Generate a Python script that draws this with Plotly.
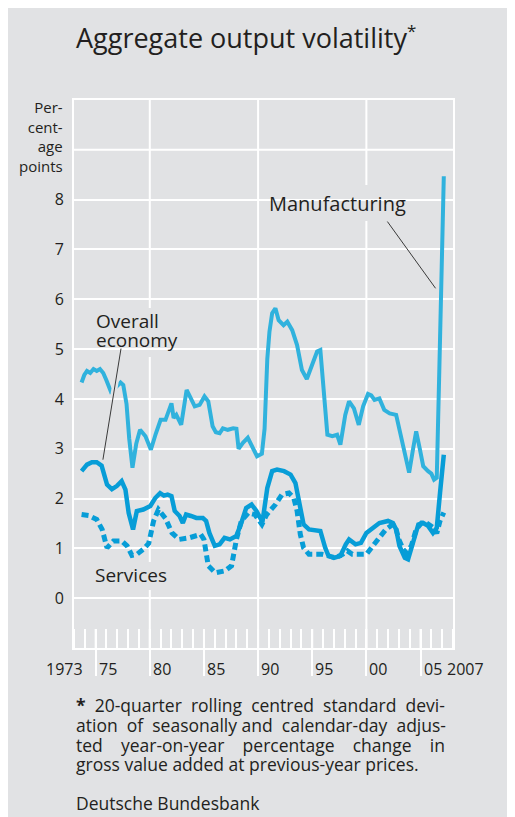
import plotly.graph_objects as go

# ---------------- data ----------------
manu_years = [1973.70, 1973.95, 1974.20, 1974.50, 1974.80, 1975.10, 1975.40, 1975.70, 1976.00, 1976.40,
              1976.80, 1977.30, 1977.55, 1977.85, 1978.10, 1978.40, 1978.75, 1979.10, 1979.60, 1980.10,
              1980.55, 1981.00, 1981.45, 1981.70, 1982.00, 1982.20, 1982.45, 1982.90, 1983.40, 1983.70,
              1984.15, 1984.60, 1985.05, 1985.40, 1985.80, 1986.10, 1986.45, 1986.75, 1987.20, 1987.70,
              1988.00, 1988.20, 1988.60, 1989.05, 1989.50, 1989.90, 1990.35, 1990.60, 1990.85, 1991.05,
              1991.30, 1991.60, 1991.90, 1992.35, 1992.70, 1993.15, 1993.60, 1994.05, 1994.50, 1995.00,
              1995.45, 1995.75, 1996.10, 1996.40, 1996.85, 1997.30, 1997.60, 1998.05, 1998.40, 1998.85,
              1999.30, 1999.70, 2000.15, 2000.45, 2000.75, 2001.20, 2001.65, 2002.15, 2002.75, 2003.20,
              2003.60, 2003.95, 2004.30, 2004.60, 2004.95, 2005.25, 2005.70, 2006.00, 2006.25, 2006.50,
              2006.75, 2007.15]
manu_values = [4.33, 4.48, 4.56, 4.52, 4.60, 4.56, 4.60, 4.52, 4.37, 4.15,
               4.22, 4.33, 4.28, 3.90, 3.20, 2.62, 3.10, 3.38, 3.25, 2.98,
               3.30, 3.58, 3.58, 3.75, 3.91, 3.62, 3.68, 3.48, 4.18, 4.05,
               3.85, 3.88, 4.05, 3.95, 3.45, 3.33, 3.31, 3.41, 3.38, 3.41,
               3.40, 3.00, 3.12, 3.22, 3.03, 2.85, 2.90, 3.40, 4.80, 5.35,
               5.72, 5.82, 5.58, 5.48, 5.55, 5.38, 5.08, 4.58, 4.40, 4.68,
               4.95, 4.98, 3.95, 3.28, 3.25, 3.28, 3.08, 3.68, 3.95, 3.81,
               3.48, 3.85, 4.10, 4.07, 3.98, 4.01, 3.78, 3.71, 3.68, 3.25,
               2.78, 2.52, 2.98, 3.35, 2.98, 2.65, 2.55, 2.50, 2.38, 2.42,
               4.70, 8.47]

overall_years = [1973.70, 1974.20, 1974.65, 1975.10, 1975.55, 1976.05, 1976.50, 1976.95, 1977.40, 1977.75,
                 1978.05, 1978.45, 1978.80, 1979.40, 1980.05, 1980.50, 1980.95, 1981.30, 1981.65, 1982.00,
                 1982.30, 1982.75, 1983.05, 1983.35, 1983.80, 1984.30, 1984.90, 1985.20, 1985.50, 1986.00,
                 1986.45, 1986.90, 1987.40, 1988.00, 1988.45, 1988.90, 1989.40, 1989.85, 1990.40, 1990.85,
                 1991.30, 1991.75, 1992.40, 1993.00, 1993.45, 1993.75, 1994.20, 1994.70, 1995.30, 1995.75,
                 1996.20, 1996.50, 1997.00, 1997.60, 1998.10, 1998.40, 1999.00, 1999.50, 2000.00, 2000.60,
                 2001.20, 2002.00, 2002.45, 2002.75, 2003.05, 2003.55, 2003.85, 2004.30, 2004.80, 2005.25,
                 2005.70, 2006.15, 2006.50, 2006.80, 2007.15]
overall_values = [2.55, 2.68, 2.73, 2.73, 2.66, 2.28, 2.19, 2.25, 2.35, 2.18,
                  1.71, 1.38, 1.75, 1.78, 1.85, 2.01, 2.11, 2.06, 2.08, 2.05,
                  1.75, 1.65, 1.51, 1.68, 1.65, 1.61, 1.61, 1.55, 1.31, 1.05,
                  1.08, 1.21, 1.18, 1.25, 1.51, 1.81, 1.88, 1.75, 1.53, 2.21,
                  2.55, 2.58, 2.55, 2.48, 2.31, 2.01, 1.48, 1.38, 1.35, 1.35,
                  1.01, 0.85, 0.81, 0.85, 1.08, 1.18, 1.08, 1.11, 1.31, 1.41,
                  1.51, 1.55, 1.51, 1.38, 1.05, 0.81, 0.78, 1.11, 1.48, 1.51,
                  1.45, 1.31, 1.41, 2.11, 2.88]

serv_years = [1973.70, 1974.35, 1975.10, 1975.60, 1976.05, 1976.65, 1977.40, 1977.90, 1978.35, 1978.80,
              1979.40, 1979.90, 1980.35, 1980.80, 1981.45, 1982.05, 1982.70, 1983.60, 1984.70, 1985.00,
              1985.40, 1986.05, 1986.95, 1987.55, 1988.00, 1988.45, 1989.10, 1989.70, 1990.35, 1990.80,
              1991.60, 1992.20, 1992.85, 1993.30, 1993.60, 1993.90, 1994.20, 1994.70, 1995.30, 1995.90,
              1996.50, 1997.15, 1997.80, 1998.25, 1998.70, 1999.60, 2000.00, 2000.60, 2001.20, 2001.80,
              2002.45, 2002.75, 2003.00, 2003.40, 2003.70, 2004.15, 2004.60, 2005.10, 2005.55, 2006.00,
              2006.30, 2006.50, 2006.80, 2007.15]
serv_values = [1.68, 1.66, 1.58, 1.38, 1.01, 1.15, 1.15, 1.05, 0.86, 0.88,
               0.98, 1.10, 1.55, 1.78, 1.60, 1.31, 1.18, 1.21, 1.28, 1.18,
               0.65, 0.51, 0.55, 0.65, 1.18, 1.55, 1.71, 1.68, 1.48, 1.68,
               1.88, 2.08, 2.11, 2.01, 1.75, 1.28, 1.01, 0.88, 0.88, 0.88,
               0.85, 0.81, 0.88, 0.95, 0.88, 0.88, 0.88, 1.05, 1.21, 1.38,
               1.48, 1.38, 1.18, 0.98, 0.91, 1.05, 1.38, 1.51, 1.51, 1.45,
               1.40, 1.30, 1.55, 1.72]

y_tick_values = [0, 1, 2, 3, 4, 5, 6, 7, 8]
y_tick_labels = ["0", "1", "2", "3", "4", "5", "6", "7", "8"]
y_extra_grid = [9]
major_years = [1975, 1980, 1985, 1990, 1995, 2000, 2005]
major_labels = ["75", "80", "85", "90", "95", "00", "05"]
grid_years = [1980, 1990, 2000]

# ---------------- styling ----------------
BG = "#e1e2e4"
TXT = "#231f20"
C_MANU = "#30b2dd"
C_OVER = "#079dd7"
FONT = "Open Sans"

W, H = 515, 817
OFF = 8  # page body margin: figure starts 8px into the window
L, R, T, B = 66, 70, 92, 177
PW, PH = W - L - R, H - T - B
X0, X1, Y0, Y1 = 1973, 2008, -1, 10


def xp(px):
    """screenshot x pixel -> paper fraction"""
    return (px - OFF - L) / PW


def yp(py):
    """screenshot y pixel -> paper fraction"""
    return (H - B - (py - OFF)) / PH


def dx(px):
    return X0 + xp(px) * (X1 - X0)


def dy(py):
    return Y0 + yp(py) * (Y1 - Y0)


fig = go.Figure()
fig.add_trace(go.Scatter(x=manu_years, y=manu_values, mode="lines", name="Manufacturing",
                         line=dict(color=C_MANU, width=4), hoverinfo="skip"))
fig.add_trace(go.Scatter(x=overall_years, y=overall_values, mode="lines", name="Overall economy",
                         line=dict(color=C_OVER, width=4.5), hoverinfo="skip"))
fig.add_trace(go.Scatter(x=serv_years, y=serv_values, mode="lines", name="Services",
                         line=dict(color=C_OVER, width=5, dash="7px,4px"), hoverinfo="skip"))

fig.update_layout(
    width=W, height=H, autosize=False,
    margin=dict(l=L, r=R, t=T, b=B),
    paper_bgcolor=BG, plot_bgcolor=BG,
    showlegend=False,
    font=dict(family=FONT, color=TXT, size=16),
    xaxis=dict(range=[X0, X1], tickmode="linear", tick0=1975, dtick=5, showticklabels=False,
               ticks="outside", ticklen=26, tickwidth=2, tickcolor="white",
               showgrid=False, zeroline=False,
               showline=True, linecolor="white", linewidth=2, mirror=True,
               minor=dict(tickmode="linear", tick0=1973, dtick=1, ticks="inside", ticklen=19,
                          tickwidth=2, tickcolor="white", showgrid=False)),
    yaxis=dict(range=[Y0, Y1], tickmode="array", tickvals=y_tick_values, ticktext=y_tick_labels,
               ticks="", showgrid=True, gridcolor="white", gridwidth=2, zeroline=False,
               showline=True, linecolor="white", linewidth=2, mirror=True,
               ticklabelstandoff=5,
               tickfont=dict(size=16, color=TXT, family=FONT)),
)

shapes = []
for yr in grid_years:
    shapes.append(dict(type="line", xref="x", yref="paper", x0=yr, x1=yr, y0=0, y1=1,
                       line=dict(color="white", width=2), layer="below"))
for yr in major_years:
    shapes.append(dict(type="line", xref="x", yref="paper", x0=yr, x1=yr, y0=0, y1=19 / PH,
                       line=dict(color="white", width=2), layer="below"))
for yv in y_extra_grid:
    shapes.append(dict(type="line", xref="paper", yref="y", x0=0, x1=1, y0=yv, y1=yv,
                       line=dict(color="white", width=2), layer="below"))
# background boxes behind the series labels (interrupt the grid)
for (bx0, by0, bx1, by1) in [(260, 185, 415, 221), (87, 308, 185, 357), (90, 562, 170, 590)]:
    shapes.append(dict(type="rect", xref="x", yref="y", x0=dx(bx0), x1=dx(bx1), y0=dy(by1), y1=dy(by0),
                       fillcolor=BG, line=dict(width=0), layer="below"))
# leader line halo where it crosses the manufacturing line
shapes.append(dict(type="line", xref="x", yref="y", x0=1976.95, y0=4.48, x1=1976.62, y1=4.05,
                   line=dict(color=BG, width=6), layer="above"))
# leader lines
shapes.append(dict(type="line", xref="x", yref="y", x0=1977.34, y0=5.01, x1=1975.67, y1=2.78,
                   line=dict(color="#3a3a3a", width=1), layer="above"))
shapes.append(dict(type="line", xref="x", yref="y", x0=2001.94, y0=7.56, x1=2006.39, y1=6.22,
                   line=dict(color="#3a3a3a", width=1), layer="above"))
fig.update_layout(shapes=shapes)

ann = []


def text_at(px, py, text, size, xanchor="left", **kw):
    ann.append(dict(xref="paper", yref="paper", x=xp(px), y=yp(py), xanchor=xanchor, yanchor="middle",
                    text=text, showarrow=False, font=dict(size=size, color=TXT, family=FONT), **kw))


# title
text_at(74, 37, "Aggregate output volatility<sup><span style='font-size:17px'>*</span></sup>", 27)
# y unit
ann.append(dict(xref="paper", yref="paper", x=xp(65), y=yp(95), xanchor="right", yanchor="top",
                text="Per-<br>cent-<br>age<br>points", showarrow=False, align="right",
                font=dict(size=15, color=TXT, family=FONT)))
# series labels
text_at(337, 203, "Manufacturing", 20, xanchor="center")
text_at(94, 321, "Overall", 19)
text_at(94, 340, "economy", 19)
text_at(93, 575, "Services", 19)
# x labels
for yr, lab in zip(major_years, major_labels):
    ann.append(dict(xref="x", yref="paper", x=yr, y=yp(669), xanchor="left", yanchor="middle",
                    xshift=1, text=lab, showarrow=False, font=dict(size=16, color=TXT, family=FONT)))
text_at(85, 669, "1973", 16, xanchor="right")
ann.append(dict(xref="x", yref="paper", x=2007, y=yp(669), xanchor="left", yanchor="middle",
                xshift=3, text="2007", showarrow=False, font=dict(size=16, color=TXT, family=FONT)))

# footnote (justified lines: widened word gaps)
FS = 17.5
NB = "\u00a0"


def justify(words, extra):
    gaps = [" " + NB * e for e in extra]
    out = words[0]
    for g, w in zip(gaps, words[1:]):
        out += g + w
    return out


line1 = justify(["<b>*</b>", "20-quarter", "rolling", "centred", "standard", "devi-"], [1, 1, 1, 1, 1])
line2 = justify(["ation", "of", "seasonally", "and", "calendar-day", "adjus-"], [1, 1, 0, 1, 1])
line3 = justify(["ted", "year-on-year", "percentage", "change", "in"], [3, 3, 3, 3])
text_at(74, 705, line1, FS)
text_at(74, 725, line2, FS)
text_at(74, 745, line3, FS)
text_at(74, 764, "gross value added at previous-year prices.", FS)
text_at(74, 803, "Deutsche Bundesbank", FS)
fig.update_layout(annotations=ann)

fig.write_html("out.html")
